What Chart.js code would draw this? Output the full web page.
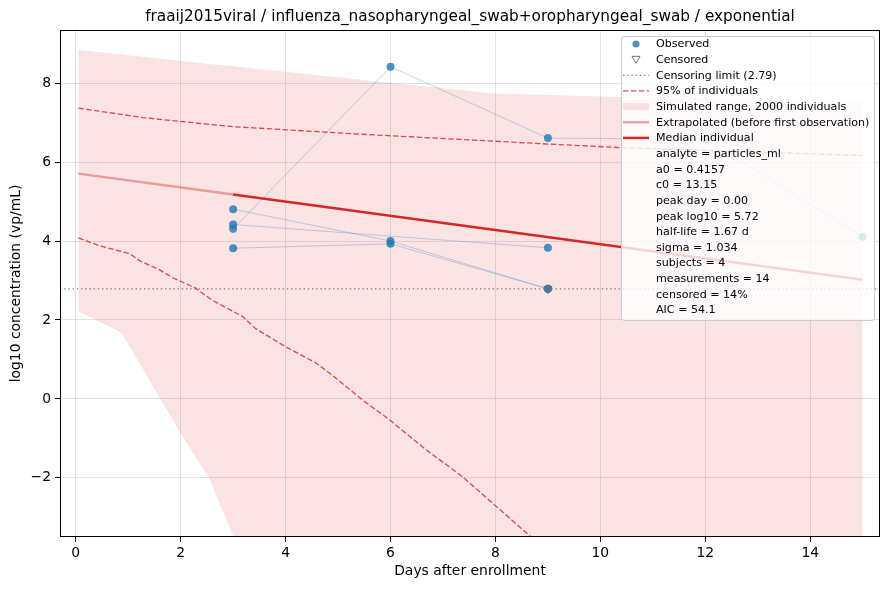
<!DOCTYPE html>
<html lang="en">
<head>
<meta charset="UTF-8">
<title>fraaij2015viral exponential fit</title>
<script src="https://cdn.jsdelivr.net/npm/chart.js"></script>
<style>
  body { margin: 0; background: #fff; }
</style>
</head>
<body>
<canvas id="fitChart" width="889" height="590"></canvas>
<script>
const titleText = 'fraaij2015viral / influenza_nasopharyngeal_swab+oropharyngeal_swab / exponential';

// measurements per subject (day, log10 vp/mL)
const subjectDays = [
  [3, 6, 9, 12, 15],
  [3, 6, 9],
  [3, 9],
  [3, 6, 9]
];
const subjectValues = [
  [4.31, 8.42, 6.61, 6.58, 4.11],
  [4.81, 4.00, 2.79],
  [4.42, 3.83],
  [3.82, 3.93, 2.79]
];
const censoredDays = [9, 9];
const censoredValues = [2.79, 2.79];
const censorLimit = 2.79;

// simulated range of 2000 individuals
const bandDays = [0.05, 0.87, 1.98, 2.54, 3.01, 3.2, 7.97, 10.38, 15];
const bandHigh = [8.84, 8.73, 8.57, 8.49, 8.43, 8.40, 7.74, 7.65, 7.55];
const bandLow = [2.22, 1.68, -0.83, -2.0, -3.5, -4.0, -4.0, -4.0, -4.0];

// 95% of individuals
const upperDays = [0.05, 1.28, 2.24, 3, 5.42, 6, 9, 10.38, 15];
const upperValues = [7.37, 7.13, 7.0, 6.9, 6.71, 6.67, 6.46, 6.37, 6.17];
const lowerDays = [0.05, 0.46, 1.03, 1.22, 1.6, 1.85, 2.27, 2.59, 3.18, 3.43, 3.99, 4.58, 4.88, 5.47, 5.98, 6.68, 7.37, 8.02, 8.67, 8.75];
const lowerValues = [4.08, 3.88, 3.68, 3.50, 3.27, 3.07, 2.82, 2.51, 2.09, 1.78, 1.33, 0.91, 0.61, -0.03, -0.53, -1.29, -1.97, -2.73, -3.49, -3.6];

// median individual
const extrapDays = [0.05, 3];
const extrapValues = [5.71, 5.18];
const medianDays = [3, 15];
const medianValues = [5.18, 3.02];

const legendLabels = [
  'Observed',
  'Censored',
  'Censoring limit (2.79)',
  '95% of individuals',
  'Simulated range, 2000 individuals',
  'Extrapolated (before first observation)',
  'Median individual'
];
const fitStats = [
  'analyte = particles_ml',
  'a0 = 0.4157',
  'c0 = 13.15',
  'peak day = 0.00',
  'peak log10 = 5.72',
  'half-life = 1.67 d',
  'sigma = 1.034',
  'subjects = 4',
  'measurements = 14',
  'censored = 14%',
  'AIC = 54.1'
];

const RED = '#d62728';
const FONT = "'DejaVu Sans', sans-serif";

function toPoints(xs, ys) {
  return xs.map((x, i) => ({ x: x, y: ys[i] }));
}

const allDays = subjectDays.flat();
const allValues = subjectValues.flat();

const datasets = [];
datasets.push({
  label: 'band low', data: toPoints(bandDays, bandLow),
  borderColor: 'rgba(0,0,0,0)', borderWidth: 1, pointRadius: 0, fill: false, order: 20
});
datasets.push({
  label: 'band high', data: toPoints(bandDays, bandHigh),
  borderColor: 'rgba(0,0,0,0)', borderWidth: 1, pointRadius: 0,
  fill: '-1', backgroundColor: 'rgba(214,39,40,0.13)', order: 19
});
datasets.push({
  label: 'upper 95', data: toPoints(upperDays, upperValues),
  borderColor: 'rgba(214,39,40,0.8)', borderWidth: 1.3, borderDash: [5.5, 2.4], pointRadius: 0, order: 15
});
datasets.push({
  label: 'lower 95', data: toPoints(lowerDays, lowerValues),
  borderColor: 'rgba(214,39,40,0.8)', borderWidth: 1.3, borderDash: [5.5, 2.4], pointRadius: 0, order: 15
});
datasets.push({
  label: 'limit', data: [{ x: -0.3, y: censorLimit }, { x: 15.33, y: censorLimit }],
  borderColor: 'rgba(110,110,110,0.85)', borderWidth: 1.3, borderDash: [1.4, 2.8], pointRadius: 0, order: 14
});
datasets.push({
  label: 'extrapolated', data: toPoints(extrapDays, extrapValues),
  borderColor: 'rgba(214,39,40,0.4)', borderWidth: 2.5, pointRadius: 0, order: 12
});
datasets.push({
  label: 'median', data: toPoints(medianDays, medianValues),
  borderColor: RED, borderWidth: 2.5, pointRadius: 0, order: 11
});
subjectDays.forEach((days, i) => {
  datasets.push({
    label: 'subject ' + (i + 1), data: toPoints(days, subjectValues[i]),
    borderColor: 'rgba(31,119,180,0.28)', borderWidth: 1, pointRadius: 0, order: 8
  });
});
datasets.push({
  label: 'observed', data: toPoints(allDays, allValues), showLine: false,
  pointRadius: 4, pointBackgroundColor: 'rgba(31,119,180,0.8)', pointBorderWidth: 0, order: 2
});
datasets.push({
  label: 'censored', data: toPoints(censoredDays, censoredValues), showLine: false,
  pointStyle: 'triangle', rotation: 180, pointRadius: 4.5,
  pointBackgroundColor: 'rgba(0,0,0,0)', pointBorderColor: '#707070', pointBorderWidth: 1, order: 1
});

const framePlugin = {
  id: 'frame',
  afterDatasetsDraw(chart) {
    const { ctx, chartArea: a } = chart;
    ctx.save();
    ctx.strokeStyle = '#000';
    ctx.lineWidth = 1;
    ctx.strokeRect(a.left + 0.5, a.top + 0.5, a.right - a.left - 1, a.bottom - a.top - 1);
    ctx.fillStyle = '#000';
    ctx.font = '15.3px ' + FONT;
    ctx.textAlign = 'center';
    ctx.textBaseline = 'middle';
    ctx.fillText(titleText, (a.left + a.right) / 2, 17);
    ctx.restore();
  }
};

const legendPlugin = {
  id: 'boxLegend',
  afterDraw(chart) {
    const ctx = chart.ctx;
    const left = 621, top = 36, right = 874, bottom = 320;
    const rowTop = 44, step = 15.65, hx0 = 623, hx1 = 649, tx = 656;
    ctx.save();
    ctx.beginPath();
    ctx.roundRect(left + 0.5, top + 0.5, right - left, bottom - top, 3);
    ctx.fillStyle = 'rgba(255,255,255,0.8)';
    ctx.fill();
    ctx.strokeStyle = '#cccccc';
    ctx.lineWidth = 1;
    ctx.stroke();

    const rows = legendLabels.concat(fitStats);
    ctx.font = '11.1px ' + FONT;
    ctx.textBaseline = 'middle';
    rows.forEach((text, i) => {
      const y = rowTop + i * step;
      const cx = (hx0 + hx1) / 2;
      ctx.setLineDash([]);
      if (i === 0) {
        ctx.beginPath();
        ctx.arc(cx, y, 3.6, 0, Math.PI * 2);
        ctx.fillStyle = 'rgba(31,119,180,0.8)';
        ctx.fill();
      } else if (i === 1) {
        ctx.beginPath();
        ctx.moveTo(cx - 4, y - 3.3);
        ctx.lineTo(cx + 4, y - 3.3);
        ctx.lineTo(cx, y + 3.6);
        ctx.closePath();
        ctx.strokeStyle = '#707070';
        ctx.lineWidth = 1;
        ctx.stroke();
      } else if (i === 2) {
        ctx.beginPath();
        ctx.setLineDash([1.4, 2.8]);
        ctx.moveTo(hx0, y); ctx.lineTo(hx1, y);
        ctx.strokeStyle = 'rgba(110,110,110,0.85)';
        ctx.lineWidth = 1.3;
        ctx.stroke();
      } else if (i === 3) {
        ctx.beginPath();
        ctx.setLineDash([5.5, 2.4]);
        ctx.moveTo(hx0, y); ctx.lineTo(hx1, y);
        ctx.strokeStyle = 'rgba(214,39,40,0.8)';
        ctx.lineWidth = 1.3;
        ctx.stroke();
      } else if (i === 4) {
        ctx.fillStyle = 'rgba(214,39,40,0.13)';
        ctx.fillRect(hx0, y - 3.5, hx1 - hx0, 7);
      } else if (i === 5 || i === 6) {
        ctx.beginPath();
        ctx.moveTo(hx0, y); ctx.lineTo(hx1, y);
        ctx.strokeStyle = i === 5 ? 'rgba(214,39,40,0.4)' : RED;
        ctx.lineWidth = 2.5;
        ctx.stroke();
      }
      ctx.fillStyle = '#000';
      ctx.textAlign = 'left';
      ctx.fillText(text, tx, y + 0.5);
    });
    ctx.restore();
  }
};

new Chart(document.getElementById('fitChart'), {
  type: 'line',
  data: { datasets: datasets },
  options: {
    responsive: false,
    animation: false,
    events: [],
    layout: { padding: { top: 30, right: 9, left: 0, bottom: 0 } },
    elements: { line: { tension: 0 } },
    plugins: {
      legend: { display: false },
      tooltip: { enabled: false },
      title: { display: false }
    },
    scales: {
      x: {
        type: 'linear',
        min: -0.3,
        max: 15.33,
        afterFit(scale) { scale.height = 53; },
        border: { display: false },
        grid: { color: 'rgba(128,128,128,0.22)', tickColor: '#000', tickLength: 5 },
        ticks: {
          stepSize: 2, includeBounds: false, padding: 3, color: '#000',
          font: { family: FONT, size: 13.9 }
        },
        title: {
          display: true, text: 'Days after enrollment', color: '#000',
          font: { family: FONT, size: 13.9 }, padding: { top: 0, bottom: 10 }
        }
      },
      y: {
        min: -3.5,
        max: 9.35,
        afterFit(scale) { scale.width = 60; },
        border: { display: false },
        grid: { color: 'rgba(128,128,128,0.22)', tickColor: '#000', tickLength: 5 },
        ticks: {
          stepSize: 2, includeBounds: false, padding: 4, color: '#000',
          font: { family: FONT, size: 13.9 },
          callback: v => String(v).replace('-', '\u2212')
        },
        title: {
          display: true, text: 'log10 concentration (vp/mL)', color: '#000',
          font: { family: FONT, size: 13.9 }, padding: { top: 8, bottom: 0 }
        }
      }
    }
  },
  plugins: [framePlugin, legendPlugin]
});
</script>
</body>
</html>
